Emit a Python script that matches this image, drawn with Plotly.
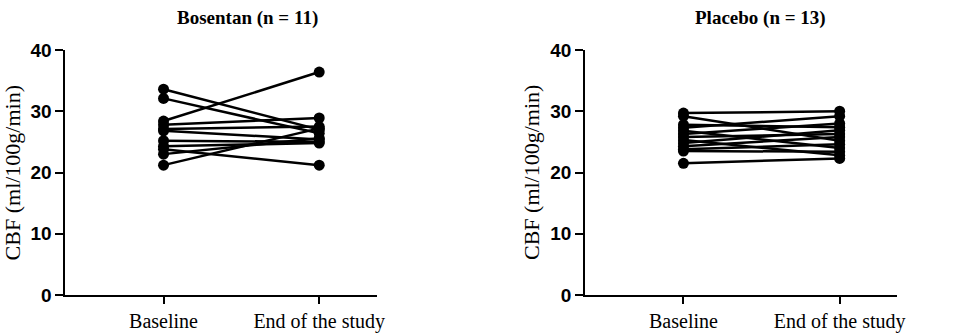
import plotly.graph_objects as go

categories = ["Baseline", "End of the study"]

bosentan_baseline = [33.6, 32.1, 28.4, 27.8, 27.1, 26.8, 25.2, 24.3, 23.8, 23.0, 21.2]
bosentan_end = [27.0, 26.4, 36.4, 28.9, 27.5, 25.4, 25.0, 24.8, 21.2, 25.6, 27.2]

placebo_baseline = [29.7, 29.2, 27.8, 27.3, 26.8, 26.3, 25.8, 25.3, 24.8, 24.3, 23.8, 23.5, 21.5]
placebo_end = [30.0, 25.2, 27.4, 29.2, 24.0, 28.0, 26.3, 22.8, 26.9, 25.8, 24.6, 23.4, 22.3]

titles = ["Bosentan (n = 11)", "Placebo (n = 13)"]
y_title = "CBF (ml/100g/min)"
y_ticks = [0, 10, 20, 30, 40]

W, H = 957, 333
fig = go.Figure()

xpos = list(range(len(categories)))
panels = [(bosentan_baseline, bosentan_end, "x", "y"),
          (placebo_baseline, placebo_end, "x2", "y2")]
for b_vals, e_vals, xa, ya in panels:
    for b, e in zip(b_vals, e_vals):
        fig.add_trace(go.Scatter(
            x=xpos, y=[b, e], mode="lines+markers", xaxis=xa, yaxis=ya,
            line=dict(color="black", width=2.5),
            marker=dict(color="black", size=11),
            showlegend=False, hoverinfo="skip"))

dom1 = [66 / W, 380 / W]
dom2 = [590 / W, 905 / W]

xcommon = dict(range=[-0.63, 1.37], tickvals=xpos, ticktext=categories,
               showline=True, linecolor="black", linewidth=2,
               ticks="outside", ticklen=7, tickwidth=2, tickcolor="black",
               showgrid=False, zeroline=False, fixedrange=True,
               tickfont=dict(family="Liberation Serif", size=20, color="black"))
ycommon = dict(range=[0, 40], tickvals=y_ticks,
               showline=True, linecolor="black", linewidth=2,
               ticks="outside", ticklen=8, tickwidth=2, tickcolor="black",
               showgrid=False, zeroline=False,
               tickfont=dict(family="Liberation Sans", size=19, color="black", weight="bold"))

T, B = 50, 38
fig.update_layout(
    width=W, height=H,
    margin=dict(l=0, r=0, t=T, b=B),
    paper_bgcolor="white", plot_bgcolor="white",
    xaxis=dict(domain=dom1, anchor="y", **xcommon),
    yaxis=dict(domain=[0, 1], anchor="x", **ycommon),
    xaxis2=dict(domain=dom2, anchor="y2", **xcommon),
    yaxis2=dict(domain=[0, 1], anchor="x2", **ycommon),
)

plot_h = H - T - B
annos = []
title_x = [250 / W, 767 / W]
for t, tx in zip(titles, title_x):
    annos.append(dict(text="<b>%s</b>" % t, x=tx, y=1 + (T - 18) / plot_h,
                      xref="paper", yref="paper",
                      showarrow=False, xanchor="center", yanchor="middle",
                      font=dict(family="Liberation Serif", size=19, color="black")))
for ax in [13 / W, 536 / W]:
    annos.append(dict(text=y_title, x=ax, y=0.5, xref="paper", yref="paper",
                      showarrow=False, textangle=-90, xanchor="center", yanchor="middle",
                      font=dict(family="Liberation Serif", size=22, color="black")))
fig.update_layout(annotations=annos)

fig.write_html("out.html", config={"displayModeBar": False},
               post_script="document.body.style.margin='0';")
